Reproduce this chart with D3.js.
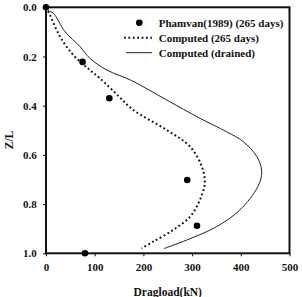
<html lang="en"><head>
<meta charset="utf-8">
<script src="https://cdn.jsdelivr.net/npm/d3@7"></script>
<style>
  body { margin: 0; background: #fff; }
  text { font-family: "Liberation Serif", "Times New Roman", serif; font-weight: bold; fill: #111; }
</style>
</head>
<body>
<script>
// measured points
var obsX = [0, 75, 130, 290, 310, 80];
var obsY = [0, 0.222, 0.37, 0.702, 0.888, 1.0];

// computed (265 days)
var c265X = [0, 8, 29, 56, 90, 111, 150, 179, 248, 296, 320, 326, 316, 296, 261, 220, 196];
var c265Y = [0, 0.031, 0.12, 0.194, 0.255, 0.289, 0.363, 0.417, 0.499, 0.567, 0.648, 0.715, 0.783, 0.851, 0.905, 0.953, 0.98];

// computed (drained)
var drX = [0, 5, 15, 39, 70, 90, 125, 176, 248, 316, 371, 405, 433, 443, 435, 398, 350, 289, 242];
var drY = [0, 0.014, 0.024, 0.099, 0.16, 0.207, 0.255, 0.298, 0.377, 0.451, 0.506, 0.546, 0.607, 0.668, 0.729, 0.824, 0.892, 0.946, 0.981];

var xTicks = [0, 100, 200, 300, 400, 500];
var yTicks = [0, 0.2, 0.4, 0.6, 0.8, 1.0];
var legendLabels = ["Phamvan(1989) (265 days)", "Computed (265 days)", "Computed (drained)"];

var W = 302, H = 297;
var pLeft = 46, pRight = 289.5, pTop = 7.3, pBottom = 253.3;

var svg = d3.select("body").append("svg").attr("width", W).attr("height", H);

var x = d3.scaleLinear().domain([0, 500]).range([pLeft, pRight]);
var y = d3.scaleLinear().domain([0, 1]).range([pTop, pBottom]);

// axes
var xAxis = svg.append("g").attr("transform", "translate(0," + pBottom + ")")
  .call(d3.axisBottom(x).tickValues(xTicks).tickSize(3).tickFormat(d3.format("d")));
var yAxis = svg.append("g").attr("transform", "translate(" + pLeft + ",0)")
  .call(d3.axisLeft(y).tickValues(yTicks).tickSize(3).tickFormat(d3.format(".1f")));
[xAxis, yAxis].forEach(function(a) {
  a.select(".domain").remove();
  a.selectAll("line").attr("stroke", "#111").attr("stroke-width", 1);
  a.selectAll("text").style("font-size", "11px").attr("fill", "#111");
});
xAxis.selectAll("text").attr("dy", "1.1em");
yAxis.selectAll("text").attr("dx", "-0.3em");

// frame
svg.append("rect").attr("x", pLeft).attr("y", pTop)
  .attr("width", pRight - pLeft).attr("height", pBottom - pTop)
  .attr("fill", "none").attr("stroke", "#111").attr("stroke-width", 2);

var line = d3.line().x(function(d) { return x(d[0]); }).y(function(d) { return y(d[1]); })
  .curve(d3.curveCatmullRom);

svg.append("path").datum(d3.zip(drX, drY)).attr("d", line)
  .attr("fill", "none").attr("stroke", "#222").attr("stroke-width", 1);

svg.append("path").datum(d3.zip(c265X, c265Y)).attr("d", line)
  .attr("fill", "none").attr("stroke", "#111").attr("stroke-width", 2)
  .attr("stroke-dasharray", "1.8,2.6");

svg.selectAll("circle.obs").data(d3.zip(obsX, obsY)).enter().append("circle")
  .attr("class", "obs")
  .attr("cx", function(d) { return x(d[0]); })
  .attr("cy", function(d) { return y(d[1]); })
  .attr("r", 3.3).attr("fill", "#000");

// legend
var lg = svg.append("g");
var ly = [22.7, 37.7, 52.7];
lg.append("circle").attr("cx", 139.3).attr("cy", ly[0]).attr("r", 3.3).attr("fill", "#000");
lg.append("line").attr("x1", 124).attr("x2", 152).attr("y1", ly[1]).attr("y2", ly[1])
  .attr("stroke", "#111").attr("stroke-width", 2).attr("stroke-dasharray", "1.8,2.6");
lg.append("line").attr("x1", 126).attr("x2", 152).attr("y1", ly[2]).attr("y2", ly[2])
  .attr("stroke", "#222").attr("stroke-width", 1);
lg.selectAll("text").data(legendLabels).enter().append("text")
  .attr("x", 158.7).attr("y", function(d, i) { return ly[i]; })
  .attr("dy", "0.35em").style("font-size", "11px").text(function(d) { return d; });

// axis titles
svg.append("text").attr("x", (pLeft + pRight) / 2).attr("y", 292).attr("dy", "0.35em")
  .attr("text-anchor", "middle").style("font-size", "11.5px").text("Dragload(kN)");
svg.append("text").attr("transform", "translate(9,140) rotate(-90)")
  .attr("text-anchor", "middle").attr("dy", "0.35em").style("font-size", "11.5px").text("Z/L");
</script>
</body></html>
